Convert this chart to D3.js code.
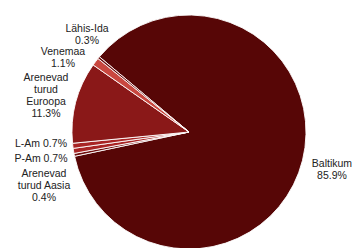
<!DOCTYPE html>
<html>
<head>
<meta charset="utf-8">
<script src="https://cdn.jsdelivr.net/npm/d3@7"></script>
<style>
  body { margin: 0; background: #fff; }
  svg { display: block; }
  text { font-family: "Liberation Sans", Arial, sans-serif; font-size: 10.5px; fill: #222; }
</style>
</head>
<body>
<svg id="chart" width="352" height="248"></svg>
<script>
// slices, clockwise from Baltikum
const regions = ['Baltikum', 'Arenevad turud Aasia', 'P-Am', 'L-Am', 'Arenevad turud Euroopa', 'Venemaa', 'Lähis-Ida'];
const shares = [85.9, 0.4, 0.7, 0.7, 11.3, 1.1, 0.3];
const labelLines = [
  ['Baltikum', '85.9%'],
  ['Arenevad', 'turud Aasia', '0.4%'],
  ['P-Am 0.7%'],
  ['L-Am 0.7%'],
  ['Arenevad', 'turud', 'Euroopa', '11.3%'],
  ['Venemaa', '1.1%'],
  ['Lähis-Ida', '0.3%']
];
const colors = ['#570606', '#6e0d0d', '#a82424', '#a82424', '#8a1818', '#c9473f', '#6a0b0b'];

// label anchor points (centre of first line)
const labelAt = [[332, 163], [44, 173], [41, 158], [41, 143], [46, 77], [63, 51], [87, 28]];

const svg = d3.select('#chart');
const cx = 189, cy = 132, r = 117;

const pie = d3.pie()
  .sort(null)
  .value(d => d)
  .startAngle(-50 * Math.PI / 180)
  .endAngle(310 * Math.PI / 180);

const arc = d3.arc().innerRadius(0).outerRadius(r);

const g = svg.append('g').attr('transform', 'translate(' + cx + ',' + cy + ')');

g.selectAll('path')
  .data(pie(shares))
  .enter()
  .append('path')
  .attr('d', arc)
  .attr('fill', (d, i) => colors[i])
  .attr('stroke', '#fff')
  .attr('stroke-width', 0.9)
  .attr('stroke-linejoin', 'round');

const labels = svg.append('g');
labelLines.forEach((lines, i) => {
  const t = labels.append('text')
    .attr('text-anchor', 'middle')
    .attr('dominant-baseline', 'central');
  lines.forEach((s, j) => {
    t.append('tspan')
      .attr('x', labelAt[i][0])
      .attr('y', labelAt[i][1] + j * 12)
      .text(s);
  });
});
</script>
</body>
</html>
